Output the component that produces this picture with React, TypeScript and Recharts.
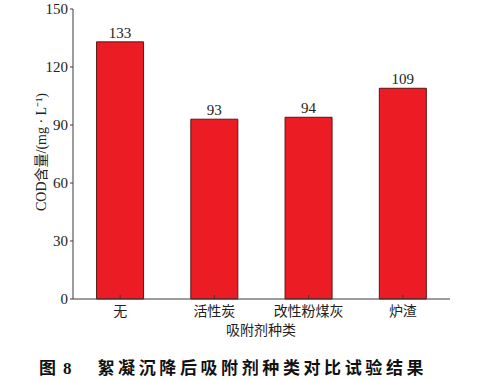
import { BarChart, Bar, XAxis, YAxis, LabelList } from "recharts";

const categories = ["无", "活性炭", "改性粉煤灰", "炉渣"];
const codValues = [133, 93, 94, 109];
const yTicks = [0, 30, 60, 90, 120, 150];

const data = categories.map((name, i) => ({ name, cod: codValues[i] }));

const serif = "'Liberation Serif', 'Noto Sans CJK SC', serif";
const cjk = "'Noto Sans CJK SC', sans-serif";
const axisColor = "#3a3a3a";

// tick mark pointing into the plot, label underneath
function CategoryTick(props: any) {
  const { x, y, payload } = props;
  return (
    <g>
      <line x1={x} x2={x} y1={y} y2={y - 4} stroke={axisColor} strokeWidth={1} />
      <text x={x} y={y + 17} textAnchor="middle" fontSize={14} fill="#222" fontFamily={serif}>
        {payload.value}
      </text>
    </g>
  );
}

export default function App() {
  return (
    <div style={{ position: "absolute", left: 0, top: 0, width: 488, height: 380, background: "#fff" }}>
      <BarChart width={488} height={345} data={data} margin={{ top: 9, right: 38, left: 0, bottom: 0 }} barCategoryGap="25%">
        <XAxis
          dataKey="name"
          height={46}
          stroke={axisColor}
          tickLine={false}
          tickSize={0}
          tickMargin={0}
          tick={<CategoryTick />}
        />
        <XAxis xAxisId="top" dataKey="name" orientation="top" height={0} tick={false} tickLine={false} stroke={axisColor} />
        <YAxis
          width={73}
          domain={[0, 150]}
          ticks={yTicks}
          stroke={axisColor}
          tickSize={3}
          tickMargin={2}
          tick={{ fontSize: 15, fill: "#222", fontFamily: serif }}
        />
        <YAxis yAxisId="right" orientation="right" width={0} domain={[0, 150]} tick={false} tickLine={false} stroke={axisColor} />
        <Bar dataKey="cod" fill="#ec1c24" stroke="#5c1414" strokeWidth={1} isAnimationActive={false}>
          <LabelList dataKey="cod" position="top" offset={4} fontSize={15} fill="#222" fontFamily={serif} />
        </Bar>
      </BarChart>
      <div
        style={{
          position: "absolute",
          left: 40,
          top: 152,
          transform: "translate(-50%, -50%) rotate(-90deg)",
          whiteSpace: "nowrap",
          fontFamily: serif,
          fontSize: 14,
          color: "#222",
        }}
      >
        COD含量/(mg · L⁻¹)
      </div>
      <div
        style={{
          position: "absolute",
          left: 261,
          top: 329,
          transform: "translate(-50%, -50%)",
          whiteSpace: "nowrap",
          fontFamily: serif,
          fontSize: 14,
          color: "#222",
        }}
      >
        吸附剂种类
      </div>
      <div
        style={{
          position: "absolute",
          left: 39,
          top: 366,
          transform: "translateY(-50%)",
          whiteSpace: "nowrap",
          fontFamily: cjk,
          fontWeight: 700,
          fontSize: 17,
          color: "#111",
        }}
      >
        <span>图</span>
        <span style={{ fontFamily: serif, marginLeft: 7 }}>8</span>
        <span style={{ marginLeft: 26, letterSpacing: 3.6 }}>絮凝沉降后吸附剂种类对比试验结果</span>
      </div>
    </div>
  );
}
